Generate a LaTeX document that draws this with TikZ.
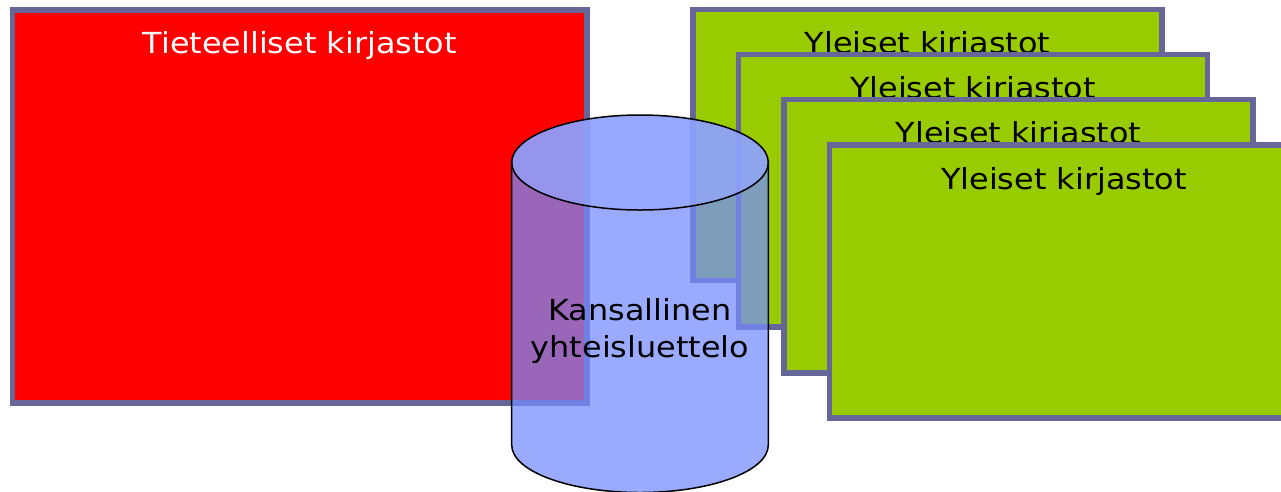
\documentclass[tikz,border=0pt]{standalone}
\usepackage{fontspec}
\usetikzlibrary{calc}
\newfontfamily\vfont[FakeStretch=1.1]{DejaVu Sans}
\definecolor{bordr}{RGB}{102,102,153}
\definecolor{libgreen}{RGB}{153,204,0}
\definecolor{libred}{RGB}{255,0,0}
\definecolor{cylbody}{RGB}{116,140,255}
\definecolor{cyltop}{RGB}{142,161,255}
\tikzset{
  libbox/.style={draw=bordr, line width=5.6pt, inner sep=0pt, outer sep=0pt},
  libtext/.style={font=\vfont\fontsize{29}{37}\selectfont, anchor=base, inner sep=0pt},
}
\begin{document}
\begin{tikzpicture}[x=1pt,y=-1pt]
\useasboundingbox (0,0) rectangle (1281,491);
% red
\node[libbox, fill=libred, minimum width=574.5pt, minimum height=393pt] (red) at (299.75,206.5) {};
\node[libtext, text=white] (redt) at ($(red.north)+(0,43.7)$) {Tieteelliset kirjastot};
% greens
\node[libbox, fill=libgreen, minimum width=469pt, minimum height=271pt] (g1) at (927.5,145) {};
\node[libtext] (g1t) at ($(g1.north)+(0,44)$) {Yleiset kirjastot};
\node[libbox, fill=libgreen, minimum width=469pt, minimum height=272.5pt] (g2) at (973,190.75) {};
\node[libtext] (g2t) at ($(g2.north)+(0,44)$) {Yleiset kirjastot};
\node[libbox, fill=libgreen, minimum width=469pt, minimum height=273.5pt] (g3) at (1018.5,236.25) {};
\node[libtext] (g3t) at ($(g3.north)+(0,44)$) {Yleiset kirjastot};
\node[libbox, fill=libgreen, minimum width=469pt, minimum height=273pt] (g4) at (1064,281.5) {};
\node[libtext] (g4t) at ($(g4.north)+(0,44)$) {Yleiset kirjastot};
% cylinder
\coordinate (ctop) at (640,162.5);
\coordinate (cbot) at (640,445);
\fill[cylbody, fill opacity=0.73]
  (511.7,162.5) -- (511.7,445) arc[start angle=180, end angle=0, x radius=128.3, y radius=47.5]
  -- (768.3,162.5) arc[start angle=0, end angle=180, x radius=128.3, y radius=47.5] -- cycle;
\fill[cyltop, fill opacity=0.93] (ctop) ellipse[x radius=128.3, y radius=47.5];
\draw[black, line width=1.5pt]
  (511.7,162.5) -- (511.7,445) arc[start angle=180, end angle=0, x radius=128.3, y radius=47.5]
  -- (768.3,162.5);
\draw[black, line width=1.5pt] (ctop) ellipse[x radius=128.3, y radius=47.5];
\node[libtext] (cylt1) at (640,320) {Kansallinen};
\node[libtext] (cylt2) at (640,357.3) {yhteisluettelo};
\end{tikzpicture}
\end{document}
